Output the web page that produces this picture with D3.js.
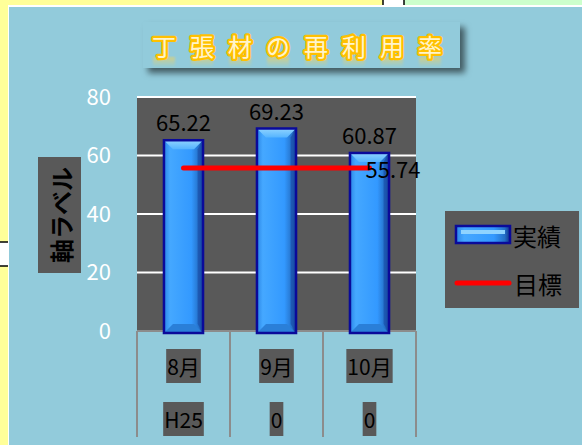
<!DOCTYPE html>
<html>
<head>
<meta charset="utf-8">
<script src="https://cdn.jsdelivr.net/npm/d3@7"></script>
<style>
  body { margin: 0; background: #fff; }
  svg { display: block; }
  text { font-family: "Noto Sans CJK JP", "Noto Sans", sans-serif; }
</style>
</head>
<body>
<script>
// chart data
var categories = ['8月', '9月', '10月'];
var years = ['H25', '0', '0'];
var actual = [65.22, 69.23, 60.87];
var target = [55.74, 55.74, 55.74];
var yTicks = [0, 20, 40, 60, 80];
var titleText = '丁張材の再利用率';

var svg = d3.select('body').append('svg')
    .attr('width', 582)
    .attr('height', 445);

var defs = svg.append('defs');

// bar gradients
var g1 = defs.append('linearGradient').attr('id', 'barBody').attr('x1', 0).attr('x2', 1).attr('y1', 0).attr('y2', 0);
g1.append('stop').attr('offset', '0%').attr('stop-color', '#2b86e6');
g1.append('stop').attr('offset', '15%').attr('stop-color', '#45a8ff');
g1.append('stop').attr('offset', '70%').attr('stop-color', '#3399ff');
g1.append('stop').attr('offset', '90%').attr('stop-color', '#2470c8');
g1.append('stop').attr('offset', '100%').attr('stop-color', '#10308a');

var g2 = defs.append('linearGradient').attr('id', 'barTop').attr('x1', 0).attr('x2', 0).attr('y1', 0).attr('y2', 1);
g2.append('stop').attr('offset', '0%').attr('stop-color', '#8fd3ff');
g2.append('stop').attr('offset', '100%').attr('stop-color', '#55b4ff');

var shadow = defs.append('filter').attr('id', 'boxShadow')
    .attr('x', '-10%').attr('y', '-20%').attr('width', '130%').attr('height', '160%');
shadow.append('feDropShadow').attr('dx', 5).attr('dy', 5).attr('stdDeviation', 3)
    .attr('flood-color', '#000').attr('flood-opacity', 0.55);

// faint reflection under title glyphs
var fade = defs.append('linearGradient').attr('id', 'fade').attr('x1', 0).attr('x2', 0).attr('y1', 0).attr('y2', 1);
fade.append('stop').attr('offset', '0%').attr('stop-color', '#ffd24a').attr('stop-opacity', 0.55);
fade.append('stop').attr('offset', '100%').attr('stop-color', '#ffd24a').attr('stop-opacity', 0);
defs.append('filter').attr('id', 'soft').append('feGaussianBlur').attr('stdDeviation', 1);

// worksheet pieces around the chart
svg.append('rect').attr('x', 0).attr('y', 0).attr('width', 582).attr('height', 445).attr('fill', '#ffff99');
svg.append('rect').attr('x', 404).attr('y', 0).attr('width', 178).attr('height', 6).attr('fill', '#ccffcc');
svg.append('rect').attr('x', 383).attr('y', 0).attr('width', 21).attr('height', 5).attr('fill', '#fff');
svg.append('line').attr('x1', 383).attr('x2', 383).attr('y1', 0).attr('y2', 5).attr('stroke', '#000').attr('stroke-width', 1.5);
svg.append('line').attr('x1', 404).attr('x2', 404).attr('y1', 0).attr('y2', 5).attr('stroke', '#000').attr('stroke-width', 1.5);
svg.append('rect').attr('x', 0).attr('y', 242).attr('width', 9).attr('height', 24).attr('fill', '#fff');
svg.append('line').attr('x1', 0).attr('x2', 9).attr('y1', 242).attr('y2', 242).attr('stroke', '#000').attr('stroke-width', 1.5);
svg.append('line').attr('x1', 0).attr('x2', 9).attr('y1', 266).attr('y2', 266).attr('stroke', '#000').attr('stroke-width', 1.5);

// chart area
svg.append('rect').attr('x', 8).attr('y', 5).attr('width', 574).attr('height', 440).attr('fill', '#fff');
svg.append('rect').attr('x', 9).attr('y', 7).attr('width', 573).attr('height', 438).attr('fill', '#92cbdb');

// title
svg.append('rect')
    .attr('x', 143).attr('y', 22).attr('width', 317).attr('height', 46)
    .attr('fill', '#92cbdb')
    .attr('filter', 'url(#boxShadow)');

var titleChars = titleText.split('');
var titleG = svg.append('g');
titleChars.forEach(function(c, i) {
    var cx = 164 + i * 38;
    titleG.append('rect')
        .attr('x', cx - 11).attr('y', 57).attr('width', 22).attr('height', 10)
        .attr('fill', 'url(#fade)')
        .attr('filter', 'url(#soft)');
    titleG.append('text')
        .attr('x', cx).attr('y', 45)
        .attr('text-anchor', 'middle')
        .attr('dominant-baseline', 'central')
        .attr('font-size', 24)
        .attr('fill', '#fff4cc')
        .attr('stroke', '#ffc000')
        .attr('stroke-width', 4.5)
        .attr('stroke-linejoin', 'round')
        .attr('paint-order', 'stroke')
        .text(c);
});

// scales
var x = d3.scaleBand().domain(categories).range([137, 416]).padding(0);
var y = d3.scaleLinear().domain([0, 80]).range([331, 97]);
var barW = x.bandwidth() * 0.42;

// plot area
svg.append('rect')
    .attr('x', 137).attr('y', y(80))
    .attr('width', 279).attr('height', y(0) - y(80))
    .attr('fill', '#595959');

svg.selectAll('.grid').data(yTicks.slice(1)).enter().append('line')
    .attr('class', 'grid')
    .attr('x1', 137).attr('x2', 416)
    .attr('y1', function(d) { return y(d); })
    .attr('y2', function(d) { return y(d); })
    .attr('stroke', '#fff')
    .attr('stroke-width', 2);

// y axis labels
var yAxis = d3.axisLeft(y).tickValues(yTicks).tickSize(0).tickPadding(0);
var yg = svg.append('g').attr('transform', 'translate(111,0)').call(yAxis);
yg.select('.domain').remove();
yg.selectAll('text')
    .attr('fill', '#fff')
    .attr('font-size', 22)
    .attr('font-family', '"Noto Sans", sans-serif');

// y axis title
svg.append('rect').attr('x', 38).attr('y', 157).attr('width', 43).attr('height', 116).attr('fill', '#595959');
svg.append('text')
    .attr('transform', 'translate(60,215) rotate(-90)')
    .attr('text-anchor', 'middle')
    .attr('dominant-baseline', 'central')
    .attr('font-size', 24)
    .attr('font-weight', 'bold')
    .attr('fill', '#000')
    .text('軸ラベル');

// category axis: line + separators
svg.append('line').attr('x1', 137).attr('x2', 416).attr('y1', 331).attr('y2', 331)
    .attr('stroke', '#8c8c8c').attr('stroke-width', 2);
var seps = categories.map(function(c) { return x(c); }).concat([416]);
svg.selectAll('.sep').data(seps).enter().append('line')
    .attr('class', 'sep')
    .attr('x1', function(d) { return d; }).attr('x2', function(d) { return d; })
    .attr('y1', 331).attr('y2', 437)
    .attr('stroke', '#8c8c8c').attr('stroke-width', 2);

// bars
function drawBar(g, bx, by, bw, bh) {
    var bev = Math.min(9, bh / 2);
    g.append('rect').attr('x', bx).attr('y', by).attr('width', bw).attr('height', bh)
        .attr('fill', 'url(#barBody)');
    // top bevel
    g.append('path')
        .attr('d', 'M' + bx + ',' + by + 'L' + (bx + bw) + ',' + by +
            'L' + (bx + bw - bev) + ',' + (by + bev) + 'L' + (bx + bev) + ',' + (by + bev) + 'Z')
        .attr('fill', 'url(#barTop)');
    // bottom bevel
    g.append('path')
        .attr('d', 'M' + bx + ',' + (by + bh) + 'L' + (bx + bw) + ',' + (by + bh) +
            'L' + (bx + bw - bev) + ',' + (by + bh - bev) + 'L' + (bx + bev) + ',' + (by + bh - bev) + 'Z')
        .attr('fill', '#2a7fd8');
    // right bevel shade
    g.append('path')
        .attr('d', 'M' + (bx + bw) + ',' + by + 'L' + (bx + bw) + ',' + (by + bh) +
            'L' + (bx + bw - bev * 0.6) + ',' + (by + bh - bev) + 'L' + (bx + bw - bev * 0.6) + ',' + (by + bev) + 'Z')
        .attr('fill', '#1a4fa8').attr('opacity', 0.7);
    g.append('rect').attr('x', bx).attr('y', by).attr('width', bw).attr('height', bh)
        .attr('fill', 'none').attr('stroke', '#0a0a9a').attr('stroke-width', 2.5);
}

categories.forEach(function(c, i) {
    var bx = x(c) + (x.bandwidth() - barW) / 2;
    var by = y(actual[i]);
    drawBar(svg.append('g'), bx, by, barW, y(0) + 2 - by);
});

// bar labels
svg.selectAll('.blabel').data(actual).enter().append('text')
    .attr('class', 'blabel')
    .attr('x', function(d, i) { return x(categories[i]) + x.bandwidth() / 2; })
    .attr('y', function(d) { return y(d) - 19; })
    .attr('text-anchor', 'middle')
    .attr('dominant-baseline', 'central')
    .attr('font-size', 22)
    .attr('font-family', '"Noto Sans", sans-serif')
    .attr('fill', '#000')
    .text(function(d) { return d.toFixed(2); });

// target line
var line = d3.line()
    .x(function(d, i) { return x(categories[i]) + x.bandwidth() / 2; })
    .y(function(d) { return y(d); });
svg.append('path').datum(target)
    .attr('d', line)
    .attr('fill', 'none')
    .attr('stroke', '#ff0000')
    .attr('stroke-width', 5)
    .attr('stroke-linecap', 'round');

var last = target.length - 1;
svg.append('text')
    .attr('x', x(categories[last]) + x.bandwidth() / 2 - 4)
    .attr('y', y(target[last]))
    .attr('dominant-baseline', 'central')
    .attr('font-size', 22)
    .attr('font-family', '"Noto Sans", sans-serif')
    .attr('fill', '#000')
    .text(target[last].toFixed(2));

// category labels (two levels)
function catLabel(txt, cx, cy) {
    var t = svg.append('text')
        .attr('x', cx).attr('y', cy)
        .attr('text-anchor', 'middle')
        .attr('dominant-baseline', 'central')
        .attr('font-size', 21)
        .attr('fill', '#000')
        .text(txt);
    var w = t.node().getComputedTextLength();
    svg.insert('rect', function() { return t.node(); })
        .attr('x', cx - w / 2 - 1).attr('y', cy - 17)
        .attr('width', w + 2).attr('height', 34)
        .attr('fill', '#595959');
}
categories.forEach(function(c, i) {
    catLabel(c, x(c) + x.bandwidth() / 2, 366);
    catLabel(years[i], x(c) + x.bandwidth() / 2, 419);
});

// legend
var leg = svg.append('g');
leg.append('rect').attr('x', 445).attr('y', 211).attr('width', 134).attr('height', 97).attr('fill', '#595959');
var legBar = leg.append('g');
legBar.append('rect').attr('x', 456).attr('y', 226).attr('width', 54).attr('height', 17)
    .attr('fill', 'url(#barBody)').attr('stroke', '#0a0a9a').attr('stroke-width', 2.5);
legBar.append('rect').attr('x', 461).attr('y', 230).attr('width', 44).attr('height', 4).attr('fill', '#8fd3ff');
leg.append('text').attr('x', 513).attr('y', 235).attr('dominant-baseline', 'central')
    .attr('font-size', 24).attr('fill', '#000').text('実績');
leg.append('line').attr('x1', 457).attr('x2', 509).attr('y1', 283).attr('y2', 283)
    .attr('stroke', '#ff0000').attr('stroke-width', 5).attr('stroke-linecap', 'round');
leg.append('text').attr('x', 514).attr('y', 283).attr('dominant-baseline', 'central')
    .attr('font-size', 24).attr('fill', '#000').text('目標');
</script>
</body>
</html>
